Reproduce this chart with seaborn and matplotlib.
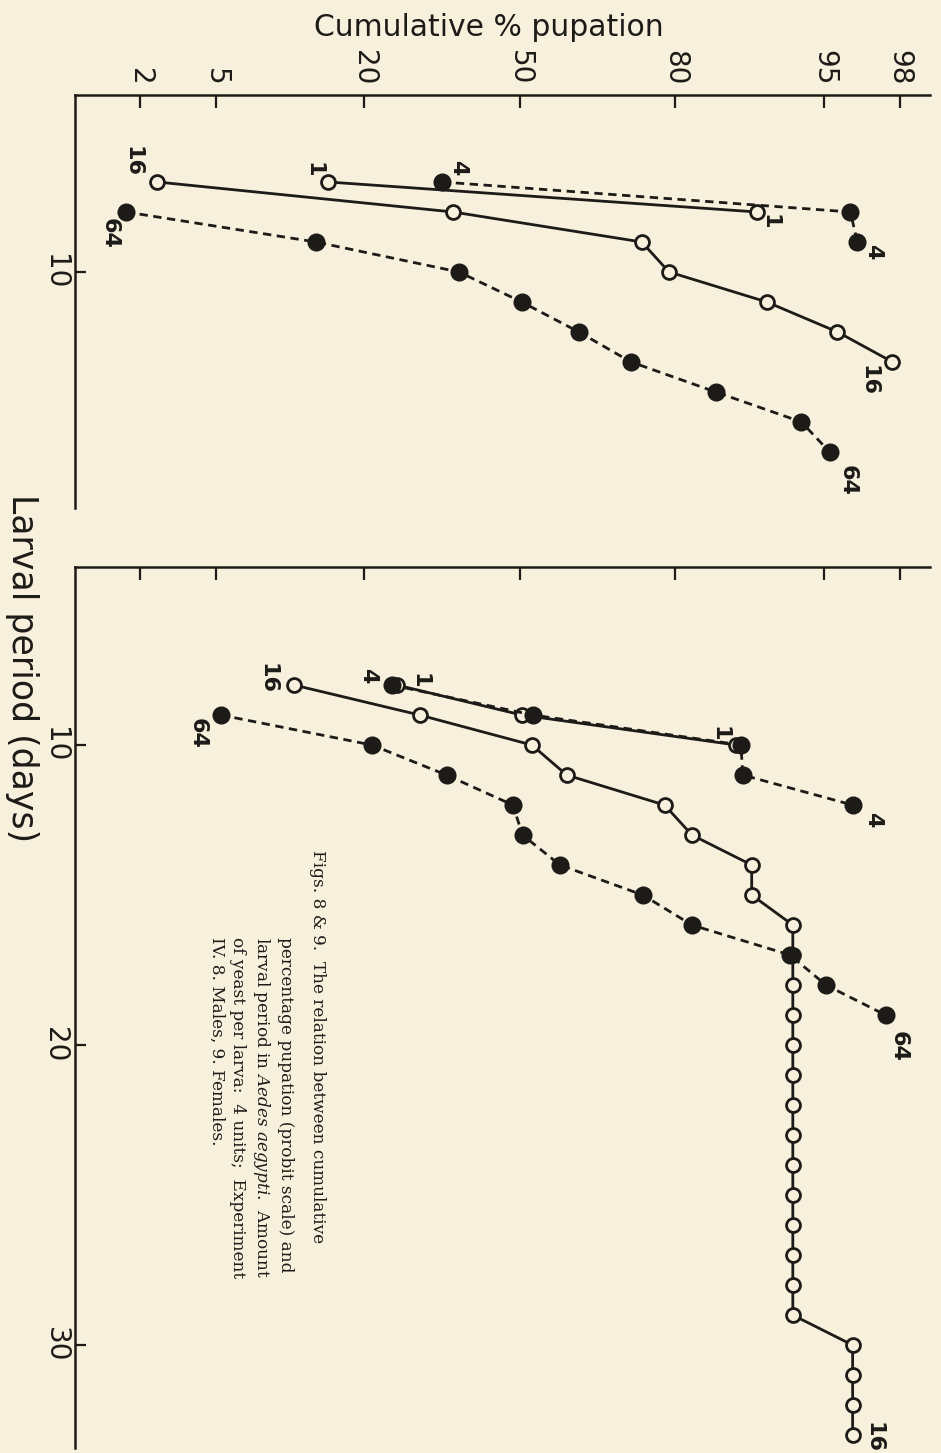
import numpy as np
import pandas as pd
import matplotlib
matplotlib.use("Agg")
import matplotlib.pyplot as plt
import seaborn as sns
from statistics import NormalDist

# ---------------- data ----------------
# Fig. 8 - males
m1_days = [7, 8]
m1_pct = [15.0, 90.0]
m4_days = [7, 8, 9]
m4_pct = [33.7, 96.3, 96.6]
m16_days = [7, 8, 9, 10, 11, 12, 13]
m16_pct = [2.5, 35.9, 74.5, 79.0, 90.9, 95.7, 97.8]
m64_days = [8, 9, 10, 11, 12, 13, 14, 15, 16]
m64_pct = [1.66, 13.5, 37.1, 50.4, 62.5, 72.6, 85.5, 93.6, 95.3]

# Fig. 9 - females
f1_days = [8, 9, 10]
f1_pct = [25.3, 50.4, 87.9]
f4_days = [8, 9, 10, 11, 12]
f4_pct = [24.4, 52.8, 88.4, 88.6, 96.4]
f16_days = [8, 9, 10, 11, 12, 13, 14, 15, 16, 17, 18, 19, 20, 21, 22, 23,
            24, 25, 26, 27, 28, 29, 30, 31, 32, 33]
f16_pct = [11.1, 29.4, 52.6, 60.0, 78.3, 82.4, 89.5, 89.5, 93.0, 93.0, 93.0,
           93.0, 93.0, 93.0, 93.0, 93.0, 93.0, 93.0, 93.0, 93.0, 93.0, 93.0,
           96.4, 96.4, 96.4, 96.4]
f64_days = [9, 10, 11, 12, 13, 14, 15, 16, 17, 18, 19]
f64_pct = [5.3, 21.2, 34.6, 48.5, 50.6, 58.6, 74.7, 82.4, 92.8, 95.1, 97.6]

pct_ticks = [2, 5, 20, 50, 80, 95, 98]
pct_ticklabels = ["2", "5", "20", "50", "80", "95", "98"]
day_ticks_top = [10]
day_ticks_bottom = [10, 20, 30]

caption_first = "Figs. 8 & 9.  The relation between cumulative"
caption_rest = ("percentage pupation (probit scale) and\n"
                "larval period in $\\mathit{Aedes\\ aegypti}$.  Amount\n"
                "of yeast per larva:  4 units;  Experiment\n"
                "IV. 8. Males, 9. Females.")

# ---------------- style ----------------
INK = "#1d1b18"
BG = "#f6f0dd"

sns.set_style("white")
plt.rcParams.update({
    "font.family": ["DejaVu Sans"],
    "mathtext.fontset": "custom",
    "mathtext.it": "DejaVu Serif:italic",
    "mathtext.rm": "DejaVu Serif",
    "text.color": INK,
    "axes.edgecolor": INK,
    "xtick.color": INK,
    "ytick.color": INK,
})

_nd = NormalDist()


def _safe_inv(v):
    return _nd.inv_cdf(v) if 0.0 < v < 1.0 else np.nan


def _safe_cdf(v):
    if np.isnan(v):
        return np.nan
    return 100.0 * _nd.cdf(v)


def probit_fwd(p):
    q = np.clip(np.asarray(p, dtype=float) / 100.0, 1e-7, 1 - 1e-7)
    return np.vectorize(_safe_inv, otypes=[float])(q)


def probit_inv(z):
    return np.vectorize(_safe_cdf, otypes=[float])(np.asarray(z, dtype=float))


fig = plt.figure(figsize=(9.41, 14.53), dpi=100, facecolor=BG)
W, H = 941.0, 1453.0


def add_panel(top_px, bottom_px):
    ax = fig.add_axes([75 / W, 1 - bottom_px / H, (930 - 75) / W,
                       (bottom_px - top_px) / H])
    ax.set_facecolor(BG)
    ax.set_xscale("function", functions=(probit_fwd, probit_inv))
    return ax


def finish(ax, ylim, yticks, show_xlabels):
    ax.set_xlabel("")
    ax.set_ylabel("")
    ax.set_xlim(0.81, 98.67)
    ax.set_ylim(*ylim)
    ax.xaxis.tick_top()
    ax.set_xticks(pct_ticks)
    ax.xaxis.set_minor_locator(matplotlib.ticker.NullLocator())
    ax.yaxis.set_minor_locator(matplotlib.ticker.NullLocator())
    if show_xlabels:
        ax.set_xticklabels(pct_ticklabels, rotation=-90, ha="center", va="bottom")
    else:
        ax.set_xticklabels([])
    ax.set_yticks(yticks)
    ax.set_yticklabels([str(t) for t in yticks], rotation=-90, ha="right",
                       va="center")
    ax.tick_params(axis="x", direction="in", length=9, width=1.6, labelsize=20,
                   pad=7, top=True, bottom=False)
    ax.tick_params(axis="y", direction="in", length=8, width=1.6, labelsize=20,
                   pad=4, left=True, right=False)
    for s in ("bottom", "right"):
        ax.spines[s].set_visible(False)
    for s in ("top", "left"):
        ax.spines[s].set_linewidth(1.8)
        ax.spines[s].set_color(INK)
    ax.grid(False)


def draw(ax, days, pct, filled):
    df = pd.DataFrame({"day": days, "pct": pct})
    sns.lineplot(data=df, x="pct", y="day", orient="y", estimator=None,
                 sort=True, ax=ax, color=INK, linewidth=2.0,
                 linestyle=(0, (3.0, 2.0)) if filled else "-",
                 marker="o", markersize=11 if filled else 10,
                 markerfacecolor=INK if filled else BG,
                 markeredgecolor=INK, markeredgewidth=2.0,
                 zorder=3 if filled else 2)


def label(ax, txt, pct, day, dx, dy):
    ax.annotate(txt, xy=(pct, day), xytext=(dx * 0.72, -dy * 0.72),
                textcoords="offset points", rotation=-90, ha="center",
                va="center", fontsize=16, fontweight="bold", color=INK,
                annotation_clip=False)


# ---------- Fig. 8 (top) ----------
ax1 = add_panel(95, 508)
draw(ax1, m1_days, m1_pct, False)
draw(ax1, m16_days, m16_pct, False)
draw(ax1, m4_days, m4_pct, True)
draw(ax1, m64_days, m64_pct, True)
finish(ax1, (17.87, 4.1), day_ticks_top, True)

label(ax1, "16", m16_pct[0], m16_days[0], -25, -20)
label(ax1, "1", m1_pct[0], m1_days[0], -15, -12)
label(ax1, "4", m4_pct[0], m4_days[0], 16, -14)
label(ax1, "64", m64_pct[0], m64_days[0], -16, 21)
label(ax1, "1", m1_pct[-1], m1_days[-1], 13, 10)
label(ax1, "4", m4_pct[-1], m4_days[-1], 16, 10)
label(ax1, "16", m16_pct[-1], m16_days[-1], -24, 19)
label(ax1, "64", m64_pct[-1], m64_days[-1], 18, 29)

# ---------- Fig. 9 (bottom) ----------
ax2 = add_panel(567, 1448)
draw(ax2, f1_days, f1_pct, False)
draw(ax2, f16_days, f16_pct, False)
draw(ax2, f4_days, f4_pct, True)
draw(ax2, f64_days, f64_pct, True)
finish(ax2, (33.43, 4.067), day_ticks_bottom, False)

label(ax2, "16", f16_pct[0], f16_days[0], -26, -7)
label(ax2, "4", f4_pct[0], f4_days[0], -23, -9)
label(ax2, "1", f1_pct[0], f1_days[0], 23, -4)
label(ax2, "64", f64_pct[0], f64_days[0], -23, 18)
label(ax2, "1", f1_pct[-1], f1_days[-1], -17, -11)
label(ax2, "4", f4_pct[-1], f4_days[-1], 20, 15)
label(ax2, "64", f64_pct[-1], f64_days[-1], 13, 31)
label(ax2, "16", f16_pct[-1], f16_days[-1], 21, 2)

# ---------- axis titles & caption ----------
fig.text(489 / W, 1 - 28 / H, "Cumulative % pupation", ha="center",
         va="center", fontsize=21.5, color=INK)
fig.text(22 / W, 1 - 668 / H, "Larval period (days)", ha="center",
         va="center", rotation=-90, fontsize=25, color=INK)

fig.text(317 / W, 1 - 850 / H, caption_first, rotation=-90, ha="center",
         va="top", fontsize=12.2, family="DejaVu Serif", color=INK)
fig.text(251 / W, 1 - 937 / H, caption_rest, rotation=-90, ha="center",
         va="top", fontsize=12.2, family="DejaVu Serif", color=INK,
         multialignment="left", linespacing=1.35)

fig.savefig("out.png", dpi=100, facecolor=BG)
